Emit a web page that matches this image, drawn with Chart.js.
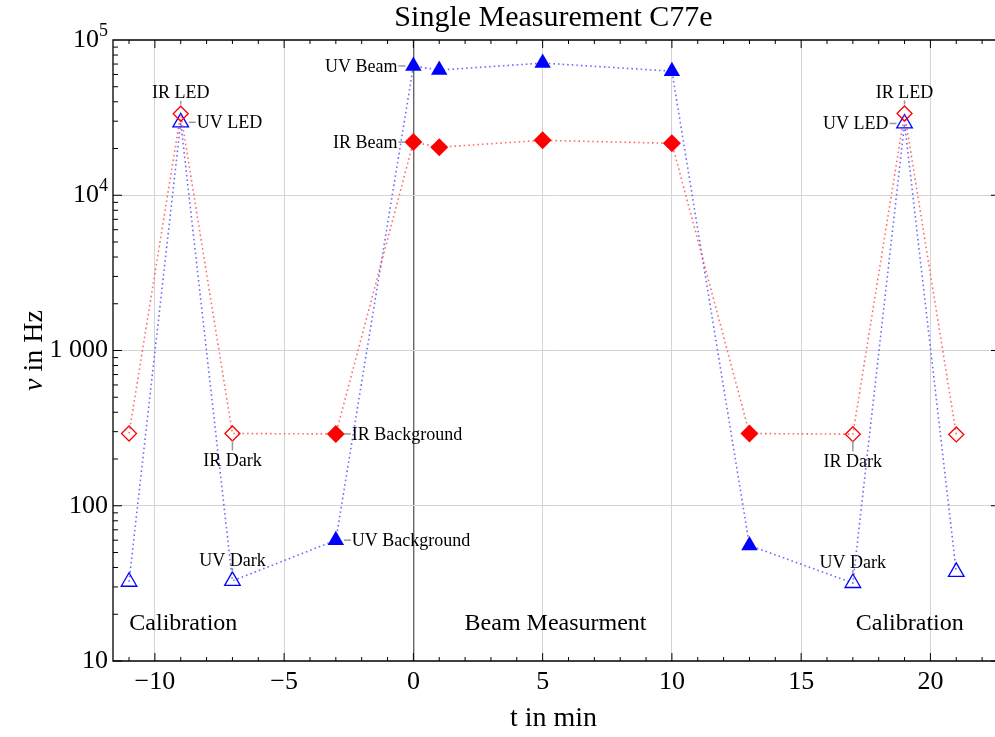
<!DOCTYPE html>
<html>
<head>
<meta charset="utf-8">
<script src="https://cdn.jsdelivr.net/npm/chart.js@4.4.0/dist/chart.umd.min.js"></script>
<style>
  html, body { margin: 0; padding: 0; background: #fff; overflow: hidden; }
  canvas { display: block; }
</style>
</head>
<body>
<canvas id="chart" width="995" height="737"></canvas>
<script>
// Data
const times    = [-11, -9, -7, -3, 0, 1, 5, 10, 13, 17, 19, 21];
const phases   = ['cal', 'cal', 'cal', 'bg', 'beam', 'beam', 'beam', 'beam', 'bg', 'cal', 'cal', 'cal'];
const irValues = [292, 33500, 292, 290, 22000, 20400, 22600, 21600, 292, 289, 33600, 288];
const uvValues = [32.4, 29500, 32.8, 60, 68000, 64000, 71000, 63000, 55.5, 31.8, 29000, 37.5];

const xTicks = [-10, -5, 0, 5, 10, 15, 20];
const yTicks = [10, 100, 1000, 10000, 100000];
const yTickLabels = ['10', '100', '1 000', '10^4', '10^5'];

// labels next to single points
const noteTexts  = ['IR LED', 'UV LED', 'IR Dark', 'UV Dark', 'IR Background', 'UV Background',
                    'UV Beam', 'IR Beam', 'IR Dark', 'UV Dark', 'IR LED', 'UV LED'];
const noteSeries = ['ir', 'uv', 'ir', 'uv', 'ir', 'uv', 'uv', 'ir', 'ir', 'uv', 'ir', 'uv'];
const notePoint  = [1, 1, 2, 2, 3, 3, 4, 4, 9, 9, 10, 10];
const noteSide   = ['top', 'right', 'bottom', 'top', 'right', 'right', 'left', 'left', 'bottom', 'top', 'top', 'left'];

const regionNames = ['Calibration', 'Beam Measurment', 'Calibration'];
const regionX = [-8.9, 5.5, 19.2];
const regionY = 17.4;

const TITLE = 'Single Measurement C77e';
const SERIF = "'Liberation Serif', 'Times New Roman', serif";
const IR_COLOR = '#ff0000';
const UV_COLOR = '#0000ff';

function isFilled(i) { return phases[i] !== 'cal'; }

function makeDataset(label, values, color, lineColor, style, rFilled, rOpen) {
    return {
        label: label,
        data: times.map((t, i) => ({ x: t, y: values[i] })),
        showLine: true,
        borderColor: lineColor,
        borderWidth: 1.6,
        borderDash: [1.6, 3],
        pointStyle: style,
        pointRadius: times.map((t, i) => isFilled(i) ? rFilled : rOpen),
        pointBackgroundColor: times.map((t, i) => isFilled(i) ? color : 'rgba(0,0,0,0)'),
        pointBorderColor: color,
        pointBorderWidth: times.map((t, i) => isFilled(i) ? 0 : 1.3)
    };
}

// frame, inward ticks, y labels, point notes, region names, titles
const decorPlugin = {
    id: 'decor',
    afterDraw(chart) {
        const ctx = chart.ctx;
        const a = chart.chartArea;
        const xs = chart.scales.x;
        const ys = chart.scales.y;
        ctx.save();

        // frame: the right edge sits just outside the picture, only stubs of its ticks show
        ctx.strokeStyle = '#000';
        ctx.lineWidth = 1.3;
        ctx.beginPath();
        ctx.moveTo(chart.width, a.top);
        ctx.lineTo(a.left, a.top);
        ctx.lineTo(a.left, a.bottom);
        ctx.lineTo(chart.width, a.bottom);
        ctx.stroke();

        // x ticks (every minute, major every 5)
        ctx.lineWidth = 1;
        for (let t = Math.ceil(xs.min); t <= Math.floor(xs.max); t++) {
            const px = xs.getPixelForValue(t);
            const len = (t % 5 === 0) ? 8 : 4;
            ctx.beginPath();
            ctx.moveTo(px, a.bottom); ctx.lineTo(px, a.bottom - len);
            ctx.moveTo(px, a.top); ctx.lineTo(px, a.top + len);
            ctx.stroke();
        }
        // y ticks (log minors)
        for (let d = 10; d < 100000; d *= 10) {
            for (let m = 1; m <= 9; m++) {
                const py = ys.getPixelForValue(m * d);
                const len = (m === 1) ? 9 : 5;
                ctx.beginPath();
                ctx.moveTo(a.left, py); ctx.lineTo(a.left + len, py);
                if (m === 1) { ctx.moveTo(chart.width, py); ctx.lineTo(chart.width - 4, py); }
                ctx.stroke();
            }
        }

        // title, centred over the plot
        ctx.fillStyle = '#000';
        ctx.textAlign = 'center';
        ctx.textBaseline = 'alphabetic';
        ctx.font = '30px ' + SERIF;
        ctx.fillText(TITLE, (a.left + a.right) / 2, 26);

        // y tick labels, with real superscripts
        ctx.textBaseline = 'middle';
        ctx.textAlign = 'right';
        yTicks.forEach((v, k) => {
            const py = ys.getPixelForValue(v);
            const parts = yTickLabels[k].split('^');
            const xr = a.left - 5;
            if (parts.length === 2) {
                ctx.font = '18px ' + SERIF;
                const we = ctx.measureText(parts[1]).width;
                ctx.fillText(parts[1], xr, py - 9);
                ctx.font = '26px ' + SERIF;
                ctx.fillText(parts[0], xr - we, py);
            } else {
                ctx.font = '26px ' + SERIF;
                ctx.fillText(parts[0], xr, py);
            }
        });

        // notes
        ctx.font = '18px ' + SERIF;
        noteTexts.forEach((text, k) => {
            const i = notePoint[k];
            const vals = noteSeries[k] === 'ir' ? irValues : uvValues;
            const px = xs.getPixelForValue(times[i]);
            const py = ys.getPixelForValue(vals[i]);
            ctx.strokeStyle = '#999';
            ctx.lineWidth = 1.5;
            ctx.beginPath();
            if (noteSide[k] === 'top') {
                ctx.moveTo(px, py - 9); ctx.lineTo(px, py - 13);
                ctx.stroke();
                ctx.textAlign = 'center';
                ctx.fillText(text, px, py - 20);
            } else if (noteSide[k] === 'bottom') {
                ctx.moveTo(px, py + 7); ctx.lineTo(px, py + 17);
                ctx.stroke();
                ctx.textAlign = 'center';
                ctx.fillText(text, px, py + 28);
            } else if (noteSide[k] === 'right') {
                ctx.moveTo(px + 8, py); ctx.lineTo(px + 15, py);
                ctx.stroke();
                ctx.textAlign = 'left';
                ctx.fillText(text, px + 16, py + 1);
            } else {
                ctx.moveTo(px - 15, py); ctx.lineTo(px - 8, py);
                ctx.stroke();
                ctx.textAlign = 'right';
                ctx.fillText(text, px - 16, py + 1);
            }
        });

        // region names
        ctx.font = '24px ' + SERIF;
        ctx.textAlign = 'center';
        regionNames.forEach((name, k) => {
            ctx.fillText(name, xs.getPixelForValue(regionX[k]), ys.getPixelForValue(regionY));
        });

        // y axis title: italic nu + " in Hz"
        ctx.translate(35, (a.top + a.bottom) / 2);
        ctx.rotate(-Math.PI / 2);
        ctx.textAlign = 'left';
        ctx.font = 'italic 28px ' + SERIF;
        const nu = 'ν';
        const rest = ' in Hz';
        const w1 = ctx.measureText(nu).width;
        ctx.font = '28px ' + SERIF;
        const w2 = ctx.measureText(rest).width;
        const start = -(w1 + w2) / 2;
        ctx.font = 'italic 28px ' + SERIF;
        ctx.fillText(nu, start, 0);
        ctx.font = '28px ' + SERIF;
        ctx.fillText(rest, start + w1, 0);

        ctx.restore();
    }
};

new Chart(document.getElementById('chart'), {
    type: 'scatter',
    data: {
        datasets: [
            makeDataset('IR', irValues, IR_COLOR, 'rgba(255,60,60,0.75)', 'rectRot', 9, 7.5),
            makeDataset('UV', uvValues, UV_COLOR, 'rgba(60,60,255,0.75)', 'triangle', 9.5, 9)
        ]
    },
    options: {
        responsive: false,
        animation: false,
        layout: { autoPadding: false, padding: { top: 40, right: 1, left: 0, bottom: 0 } },
        plugins: {
            legend: { display: false },
            tooltip: { enabled: false },
            title: { display: false }
        },
        scales: {
            x: {
                type: 'linear',
                min: -11.62,
                max: 22.46,
                afterBuildTicks: (scale) => { scale.ticks = xTicks.map(v => ({ value: v })); },
                afterFit: (scale) => {
                    scale.height = 76;
                    scale.paddingLeft = 0;
                    scale.paddingRight = 0;
                },
                ticks: {
                    color: '#000',
                    font: { family: SERIF, size: 26 },
                    padding: 6,
                    maxRotation: 0,
                    callback: (v) => v < 0 ? '−' + Math.abs(v) : String(v)
                },
                grid: {
                    drawTicks: false,
                    color: (c) => c.tick && c.tick.value === 0 ? '#666' : '#d4d4d4',
                    lineWidth: (c) => c.tick && c.tick.value === 0 ? 1.4 : 1
                },
                border: { display: false },
                title: {
                    display: true,
                    text: 't in min',
                    color: '#000',
                    font: { family: SERIF, size: 28 },
                    padding: { top: 0, bottom: 2 }
                }
            },
            y: {
                type: 'logarithmic',
                min: 10,
                max: 100000,
                afterBuildTicks: (scale) => { scale.ticks = yTicks.map(v => ({ value: v })); },
                afterFit: (scale) => {
                    scale.width = 113;
                    scale.paddingTop = 0;
                    scale.paddingBottom = 0;
                },
                ticks: { display: false },
                grid: {
                    drawTicks: false,
                    color: (c) => c.tick && (c.tick.value === 10 || c.tick.value === 100000) ? 'rgba(0,0,0,0)' : '#d4d4d4'
                },
                border: { display: false }
            }
        }
    },
    plugins: [decorPlugin]
});
</script>
</body>
</html>
